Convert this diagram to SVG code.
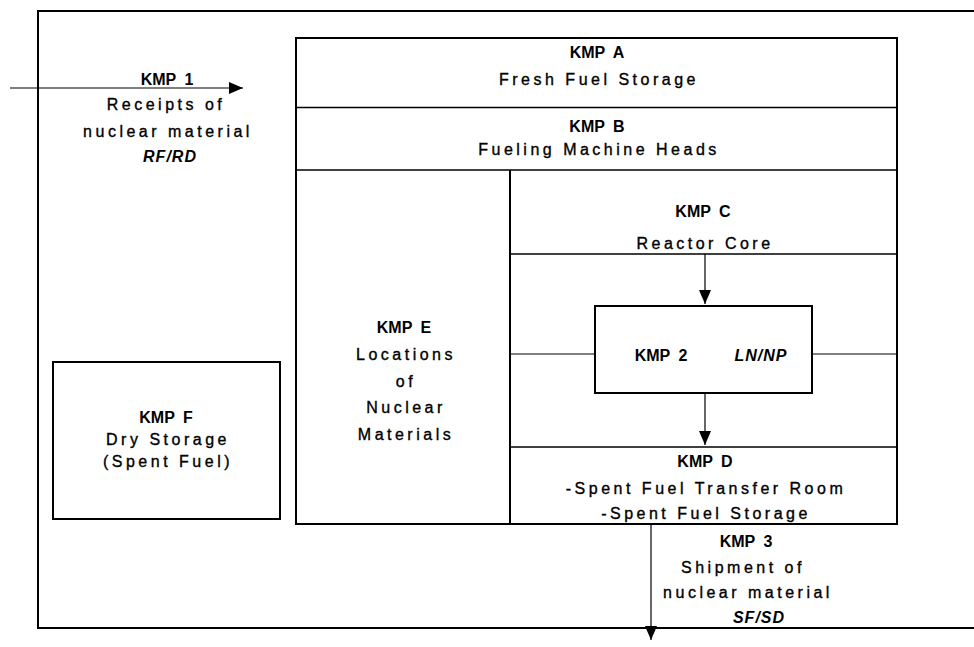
<svg xmlns="http://www.w3.org/2000/svg" width="974" height="647" viewBox="0 0 974 647">
<style>
  .frame{fill:none;stroke:#000;stroke-width:2}
  .box{fill:none;stroke:#000;stroke-width:2}
  .div{fill:none;stroke:#000;stroke-width:1.6}
  .conn{fill:none;stroke:#000;stroke-width:1.2}
  text{font-family:"Liberation Sans",Arial,sans-serif;fill:#000;text-anchor:middle}
  .t{font-size:16px;letter-spacing:3.5px;stroke:#000;stroke-width:0.35}
  .k{font-size:16px;font-weight:bold;letter-spacing:0px;word-spacing:4px}
  .i{font-size:16px;font-weight:bold;font-style:italic;letter-spacing:1px}
</style>
<defs>
  <marker id="ah" viewBox="0 0 14 12" refX="14" refY="6" markerWidth="14" markerHeight="12" markerUnits="userSpaceOnUse" orient="auto">
    <path d="M0,0 L14,6 L0,12 z" fill="#000"/>
  </marker>
</defs>
<rect width="974" height="647" fill="#fff"/>
<g id="frame">
  <path class="frame" d="M974,11 L38,11 L38,628 L974,628"/>
</g>
<g id="block">
  <rect class="box" x="296" y="38" width="601" height="486"/>
</g>
<g id="kmpA">
  <line class="div" x1="296" y1="107.5" x2="897" y2="107.5"/>
  <text class="k" x="597" y="58">KMP A</text>
  <text class="t" x="599" y="85">Fresh Fuel Storage</text>
</g>
<g id="kmpB">
  <line class="div" x1="296" y1="170" x2="897" y2="170"/>
  <text class="k" x="597" y="132">KMP B</text>
  <text class="t" x="599" y="155">Fueling Machine Heads</text>
</g>
<g id="kmpE">
  <line class="box" x1="510" y1="170" x2="510" y2="524"/>
  <text class="k" x="404" y="333">KMP E</text>
  <text class="t" x="406" y="360">Locations</text>
  <text class="t" x="406" y="387">of</text>
  <text class="t" x="406" y="413">Nuclear</text>
  <text class="t" x="406" y="440">Materials</text>
</g>
<g id="kmpC">
  <line class="div" x1="510" y1="254" x2="897" y2="254"/>
  <text class="k" x="703" y="217">KMP C</text>
  <text class="t" x="705" y="249">Reactor Core</text>
</g>
<g id="kmp2">
  <rect class="box" x="595" y="306" width="217" height="87"/>
  <line class="conn" x1="510" y1="354" x2="595" y2="354"/>
  <line class="conn" x1="812" y1="354" x2="897" y2="354"/>
  <text class="k" x="661" y="361">KMP 2</text>
  <text class="i" x="761" y="361">LN/NP</text>
</g>
<g id="kmpD">
  <line class="div" x1="510" y1="447" x2="897" y2="447"/>
  <text class="k" x="705" y="467">KMP D</text>
  <text class="t" x="706" y="494">-Spent Fuel Transfer Room</text>
  <text class="t" x="706" y="519">-Spent Fuel Storage</text>
</g>
<g id="kmpF">
  <rect class="box" x="53" y="362" width="227" height="157"/>
  <text class="k" x="166" y="423">KMP F</text>
  <text class="t" x="168" y="445">Dry Storage</text>
  <text class="t" x="168" y="467">(Spent Fuel)</text>
</g>
<g id="kmp1">
  <text class="k" x="167" y="85">KMP 1</text>
  <text class="t" x="166" y="110">Receipts of</text>
  <text class="t" x="168" y="137">nuclear material</text>
  <text class="i" x="170" y="162">RF/RD</text>
</g>
<g id="kmp3">
  <text class="k" x="746" y="547">KMP 3</text>
  <text class="t" x="743" y="573">Shipment of</text>
  <text class="t" x="748" y="598">nuclear material</text>
  <text class="i" x="759" y="623">SF/SD</text>
</g>
<g id="connectors">
  <line class="conn" x1="10" y1="88" x2="243" y2="88" marker-end="url(#ah)"/>
  <line class="conn" x1="705" y1="254" x2="705" y2="304" marker-end="url(#ah)"/>
  <line class="conn" x1="705" y1="393" x2="705" y2="445" marker-end="url(#ah)"/>
  <line class="conn" x1="651" y1="524" x2="651" y2="640" marker-end="url(#ah)"/>
</g>
</svg>
